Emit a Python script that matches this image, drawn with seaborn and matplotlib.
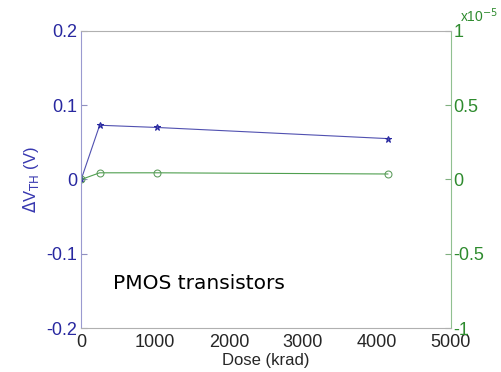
import matplotlib
matplotlib.use("Agg")
import matplotlib.pyplot as plt
import numpy as np
import pandas as pd
import seaborn as sns

dose = [0, 250, 1030, 4150]
delta_vth = [0.0, 0.073, 0.070, 0.055]
delta_ioff = [0.0, 4.5e-7, 4.5e-7, 3.7e-7]

x_ticks = [0, 1000, 2000, 3000, 4000, 5000]
left_ticks = [-0.2, -0.1, 0, 0.1, 0.2]
right_ticks = [-1, -0.5, 0, 0.5, 1]

blue = "#2828a0"
green = "#2e8b2e"

sns.set_style("white")
plt.rcParams['font.family'] = ['Liberation Sans', 'DejaVu Sans']

df = pd.DataFrame({'dose': dose, 'vth': delta_vth, 'ioff': np.array(delta_ioff) / 1e-5})

fig = plt.figure(figsize=(5.01, 3.72), dpi=100)
ax = fig.add_axes([0.162, 0.118, 0.738, 0.799])
ax2 = ax.twinx()

sns.lineplot(data=df, x='dose', y='vth', ax=ax, color="#5050b0", marker='*',
             markersize=5, markeredgecolor=blue, linewidth=0.8)
sns.lineplot(data=df, x='dose', y='ioff', ax=ax2, color="#4f9f4f", marker='o',
             markersize=5, markerfacecolor='none', markeredgecolor="#5a9a5a",
             linewidth=0.8)

ax.set_xlim(0, 5000)
ax.set_ylim(-0.2, 0.2)
ax2.set_ylim(-1, 1)
ax.set_xticks(x_ticks)
ax.set_xticklabels([str(t) for t in x_ticks], fontsize=13)
ax.set_yticks(left_ticks)
ax.set_yticklabels(['-0.2', '-0.1', '0', '0.1', '0.2'], fontsize=13, color=blue)
ax2.set_yticks(right_ticks)
ax2.set_yticklabels(['-1', '-0.5', '0', '0.5', '1'], fontsize=13, color=green)

ax.tick_params(axis='both', direction='in', length=4, pad=3, color="#9090c0")
ax.tick_params(axis='x', color="#909090", pad=4)
ax2.tick_params(axis='y', direction='in', length=4, pad=2, color="#80b080")

for sp in ['top', 'bottom']:
    ax2.spines[sp].set_color("#b0b0b0")
ax2.spines['left'].set_color("#9a9ad0")
ax2.spines['right'].set_color("#90c090")
for sp in ax.spines.values():
    sp.set_visible(False)
for sp in ax2.spines.values():
    sp.set_linewidth(0.8)

ax.set_xlabel('Dose (krad)', fontsize=12, labelpad=2)
ax.set_ylabel(r'$\Delta$V$_{\mathrm{TH}}$ (V)', fontsize=12, color="#3838b0", labelpad=4)
ax2.set_ylabel(r'$\Delta$I$_{\mathrm{D,OFF}}$ (A)', fontsize=12, color=green,
               rotation=90, labelpad=12)

fig.text(0.918, 0.94, r'x10$^{-5}$', fontsize=10, color=green)
ax.text(430, -0.147, 'PMOS transistors', fontsize=14.5, color='black',
        family='DejaVu Sans')

fig.savefig('out.png', dpi=100)
